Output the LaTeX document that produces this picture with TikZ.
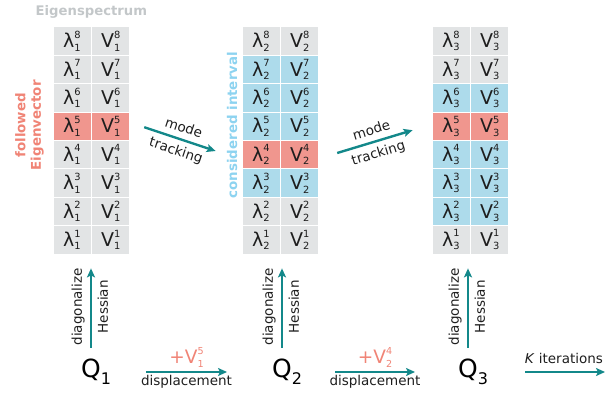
\documentclass[tikz,border=0pt]{standalone}
\usepackage{fontspec}
\setmainfont{DejaVu Sans}
\usepackage{graphicx}
\usetikzlibrary{arrows.meta,calc,positioning}

\definecolor{cellgray}{HTML}{E2E4E5}
\definecolor{cellblue}{HTML}{ADDBEB}
\definecolor{cellred}{HTML}{F0968E}
\definecolor{titlegray}{HTML}{C3C7C9}
\definecolor{followred}{HTML}{F08476}
\definecolor{intblue}{HTML}{8DD3F0}
\definecolor{arrowteal}{HTML}{13888A}
\definecolor{symtext}{HTML}{1E1E1E}

% symbol with stacked super- and subscript
\newcommand{\sym}[3]{#1\makebox[0pt][l]{\raisebox{0.5em}{\scalebox{0.52}{#2}}}\raisebox{-0.17em}{\scalebox{0.52}{#3}}}
\newcommand{\qsub}[1]{Q\rlap{\raisebox{-0.28em}{\scalebox{0.64}{#1}}}}

\tikzset{
  cell/.style={draw=white,line width=0.8pt,minimum width=38pt,minimum height=28.4pt,
               inner sep=0pt,font=\fontsize{19}{19}\selectfont,text=symtext},
  tealarrow/.style={draw=arrowteal,line width=2.4pt,-{Stealth[length=9pt,width=8pt,inset=2pt]}},
  smalltext/.style={font=\fontsize{13.5}{15.5}\selectfont,text=symtext,inner sep=2pt},
  sidetext/.style={font=\bfseries\fontsize{13.4}{15.5}\selectfont,rotate=90,inner sep=0pt},
  shifttext/.style={font=\fontsize{18.5}{18.5}\selectfont,text=followred,inner sep=0pt,anchor=base},
  qnode/.style={font=\fontsize{25}{25}\selectfont,text=black,inner sep=0pt,anchor=base}
}

\begin{document}
\begin{tikzpicture}[x=1pt,y=1pt]
\useasboundingbox (0,0) rectangle (611,396);

% first spectrum
\foreach \r/\c in {8/cellgray,7/cellgray,6/cellgray,5/cellred,4/cellgray,3/cellgray,2/cellgray,1/cellgray}
{
  \node[cell,fill=\c] (lam1-\r) at (72,{142+(\r-0.5)*28.4}) {\sym{λ}{\r}{1}};
  \node[cell,fill=\c,right=0pt of lam1-\r] (vec1-\r) {\sym{V}{\r}{1}};
}
% second spectrum
\foreach \r/\c in {8/cellgray,7/cellblue,6/cellblue,5/cellblue,4/cellred,3/cellblue,2/cellgray,1/cellgray}
{
  \node[cell,fill=\c] (lam2-\r) at (261,{142+(\r-0.5)*28.4}) {\sym{λ}{\r}{2}};
  \node[cell,fill=\c,right=0pt of lam2-\r] (vec2-\r) {\sym{V}{\r}{2}};
}
% third spectrum
\foreach \r/\c in {8/cellgray,7/cellgray,6/cellblue,5/cellred,4/cellblue,3/cellblue,2/cellblue,1/cellgray}
{
  \node[cell,fill=\c] (lam3-\r) at (451,{142+(\r-0.5)*28.4}) {\sym{λ}{\r}{3}};
  \node[cell,fill=\c,right=0pt of lam3-\r] (vec3-\r) {\sym{V}{\r}{3}};
}

% labels round the spectra
\node[font=\bfseries\fontsize{13.2}{15}\selectfont,text=titlegray,anchor=base,inner sep=0pt]
  (title) at ($(vec1-8.north west)+(0,11)$) {Eigenspectrum};
\node[sidetext,text=followred,align=center] (followed) at ($(lam1-5.west)+(-23,1)$) {followed\\Eigenvector};
\node[sidetext,text=intblue] (interval) at ($(lam2-5.west)+(-9.5,1)$) {considered interval};

% mode tracking
\draw[tealarrow] ($(vec1-5.east)+(14,-1)$) -- ($(lam2-4.west)+(-26,3.6)$)
  node[midway,above,sloped,smalltext,inner ysep=6pt] {mode}
  node[midway,below,sloped,smalltext,inner ysep=5pt] {tracking};
\draw[tealarrow] ($(vec2-4.east)+(18,1.6)$) -- ($(lam3-5.west)+(-19,-4)$)
  node[midway,above,sloped,smalltext,inner ysep=6pt] {mode}
  node[midway,below,sloped,smalltext,inner ysep=5pt] {tracking};

% geometries
\node[qnode] (q1) at (91,18) {\qsub{1}};
\node[qnode] (q2) at (282,18) {\qsub{2}};
\node[qnode] (q3) at (468,18) {\qsub{3}};
\coordinate (kend) at (605,24);

\foreach \i in {1,2,3}
  \draw[tealarrow,shorten <=11.5pt,shorten >=14pt] (q\i.north) -- (q\i.north |- lam\i-1.south)
    node[midway,above,sloped,smalltext,inner ysep=5pt] {diagonalize}
    node[midway,below,sloped,smalltext,inner ysep=5.5pt] {Hessian};

% displacements
\draw[tealarrow,shorten <=55pt,shorten >=55pt] ([yshift=6pt]q1.base) -- ([yshift=6pt]q2.base)
  node[midway,shifttext,yshift=8pt] {+\sym{V}{5}{1}}
  node[midway,anchor=base,yshift=-13.5pt,smalltext,inner sep=0pt] {displacement};
\draw[tealarrow,shorten <=53pt,shorten >=53pt] ([yshift=6pt]q2.base) -- ([yshift=6pt]q3.base)
  node[midway,shifttext,yshift=8pt] {+\sym{V}{4}{2}}
  node[midway,anchor=base,yshift=-13.5pt,smalltext,inner sep=0pt] {displacement};
\draw[tealarrow,shorten <=57pt] ([yshift=6pt]q3.base) -- (kend)
  node[pos=0.7,anchor=base,yshift=8.7pt,smalltext,inner sep=0pt] {\textit{K} iterations};
\end{tikzpicture}
\end{document}
